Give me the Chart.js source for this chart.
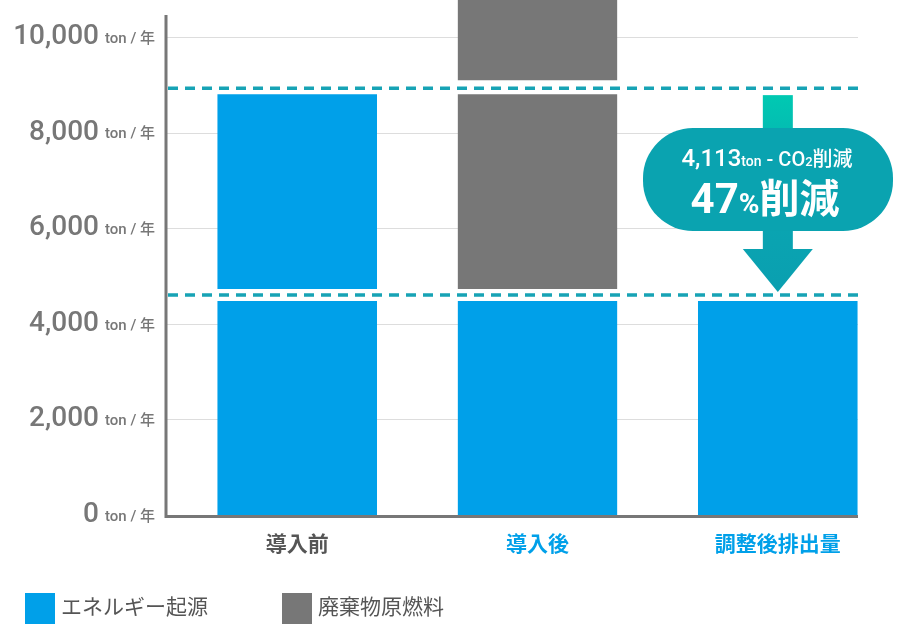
<!DOCTYPE html>
<html><head><meta charset="utf-8">
<script src="https://cdn.jsdelivr.net/npm/chart.js@4/dist/chart.umd.min.js"></script>
<style>html,body{margin:0;background:#fff}#c{display:block}</style>
</head><body>
<canvas id="c" width="912" height="626"></canvas>
<script>
const categories = ["導入前", "導入後", "調整後排出量"];
const energyLow = [4600, 4600, 4600];
const energyHigh = [4330, 0, 0];
const wasteLow = [0, 4330, 0];
const wasteHigh = [0, 2500, 0];
const yTicks = [0, 2000, 4000, 6000, 8000, 10000];
const refLines = [8930, 4600];
const legendItems = [["エネルギー起源", "#00a0e9"], ["廃棄物原燃料", "#777777"]];
const labelColors = ["#555", "#00a0e9", "#00a0e9"];

const FONT = '"Roboto","Noto Sans CJK JP",sans-serif';
const gap = 6;

const deco = {
  id: "deco",
  beforeDatasetsDraw(chart) {
    const { ctx, scales: { x, y } } = chart;
    ctx.save();
    ctx.strokeStyle = "#dddddd"; ctx.lineWidth = 1;
    yTicks.forEach(v => {
      const py = Math.round(y.getPixelForValue(v)) + 0.5;
      ctx.beginPath(); ctx.moveTo(165, py); ctx.lineTo(858, py); ctx.stroke();
    });
    ctx.restore();
  },
  afterDatasetsDraw(chart) {
    const { ctx, scales: { x, y } } = chart;
    ctx.save();
    // axes
    ctx.strokeStyle = "#777"; ctx.lineWidth = 3;
    ctx.beginPath(); ctx.moveTo(166, 15); ctx.lineTo(166, y.getPixelForValue(0) + 1.5); ctx.lineTo(858, y.getPixelForValue(0) + 1.5); ctx.stroke();
    // dashed ref lines
    ctx.strokeStyle = "#17a3b5"; ctx.lineWidth = 3.5; ctx.setLineDash([10, 7]);
    refLines.forEach(v => {
      const py = y.getPixelForValue(v);
      ctx.beginPath(); ctx.moveTo(168, py); ctx.lineTo(858, py); ctx.stroke();
    });
    ctx.setLineDash([]);
    // y tick labels
    ctx.fillStyle = "#777"; ctx.textBaseline = "middle";
    yTicks.forEach(v => {
      const py = y.getPixelForValue(v);
      ctx.font = "500 15px " + FONT; ctx.textAlign = "right";
      ctx.fillText("ton / 年", 155, py + 2);
      const uw = ctx.measureText("ton / 年").width;
      ctx.font = "500 28px " + FONT;
      ctx.fillText(v.toLocaleString("en-US"), 155 - uw - 6, py);
    });
    // x labels
    ctx.font = "bold 21px " + FONT; ctx.textAlign = "center";
    categories.forEach((c, i) => {
      ctx.fillStyle = labelColors[i];
      ctx.fillText(c, x.getPixelForValue(i), 546);
    });
    // legend
    ctx.font = "21px " + FONT; ctx.textAlign = "left";
    let lx = 25;
    legendItems.forEach(([t, col]) => {
      ctx.fillStyle = col; ctx.fillRect(lx, 593, 30, 31);
      ctx.fillStyle = "#555"; ctx.fillText(t, lx + 36, 609);
      lx += 257;
    });
    // arrow
    const cx = x.getPixelForValue(2);
    const yTop = y.getPixelForValue(refLines[0]) + 7, yBot = y.getPixelForValue(refLines[1]) - 3;
    const g = ctx.createLinearGradient(0, yTop, 0, yBot);
    g.addColorStop(0, "#00c9b2"); g.addColorStop(0.5, "#0aa7b2"); g.addColorStop(1, "#0a9fb0");
    ctx.fillStyle = g;
    ctx.fillRect(cx - 15, yTop, 30, yBot - yTop - 40);
    ctx.beginPath(); ctx.moveTo(cx - 35, yBot - 43); ctx.lineTo(cx + 35, yBot - 43); ctx.lineTo(cx, yBot); ctx.closePath(); ctx.fill();
    // bubble
    const bx = 643, by = 128, bw = 250, bh = 103, r = 50;
    ctx.fillStyle = "#0aa3b0";
    ctx.beginPath(); ctx.roundRect(bx, by, bw, bh, r); ctx.fill();
    ctx.fillStyle = "#fff"; ctx.textAlign = "left"; ctx.textBaseline = "alphabetic";
    const parts = [["4,113", "24px"], ["ton", "14px"], [" - CO", "20px"], ["2", "13px"], ["削減", "20px"]];
    let tw = 0;
    parts.forEach(([t, s]) => { ctx.font = "500 " + s + " " + FONT; tw += ctx.measureText(t).width; });
    let tx = bx + bw / 2 - tw / 2 - 1;
    parts.forEach(([t, s]) => { ctx.font = "500 " + s + " " + FONT; ctx.fillText(t, tx, 166); tx += ctx.measureText(t).width; });
    const big = [["47", "bold 42px"], ["%", "bold 28px"], ["削減", "bold 40px"]];
    tw = 0;
    big.forEach(([t, s]) => { ctx.font = s + " " + FONT; tw += ctx.measureText(t).width; });
    tx = bx + bw / 2 - tw / 2 - 3;
    big.forEach(([t, s]) => { ctx.font = s + " " + FONT; ctx.fillText(t, tx, 213); tx += ctx.measureText(t).width; });
    ctx.restore();
  }
};

const bw = (first) => ({ top: gap, bottom: first ? 0 : gap, left: 0, right: 0 });
new Chart(document.getElementById("c"), {
  type: "bar",
  data: {
    labels: categories,
    datasets: [
      { label: "エネルギー起源", data: energyLow, backgroundColor: "#00a0e9", borderColor: "#fff", borderWidth: bw(true), borderSkipped: false },
      { label: "エネルギー起源2", data: energyHigh, backgroundColor: "#00a0e9", borderColor: "#fff", borderWidth: bw(false), borderSkipped: false },
      { label: "廃棄物原燃料", data: wasteLow, backgroundColor: "#777777", borderColor: "#fff", borderWidth: bw(false), borderSkipped: false },
      { label: "廃棄物原燃料2", data: wasteHigh, backgroundColor: "#777777", borderColor: "#fff", borderWidth: { top: 0, bottom: 8, left: 0, right: 0 }, borderSkipped: false, clip: false }
    ]
  },
  options: {
    responsive: false, animation: false,
    layout: { padding: { left: 177, right: 14, top: 15, bottom: 111 } },
    barPercentage: 0.665, categoryPercentage: 1,
    plugins: { legend: { display: false }, tooltip: { enabled: false } },
    scales: {
      x: { stacked: true, display: false },
      y: { stacked: true, display: false, min: 0, max: 10460 }
    }
  },
  plugins: [deco]
});
</script>
</body></html>
